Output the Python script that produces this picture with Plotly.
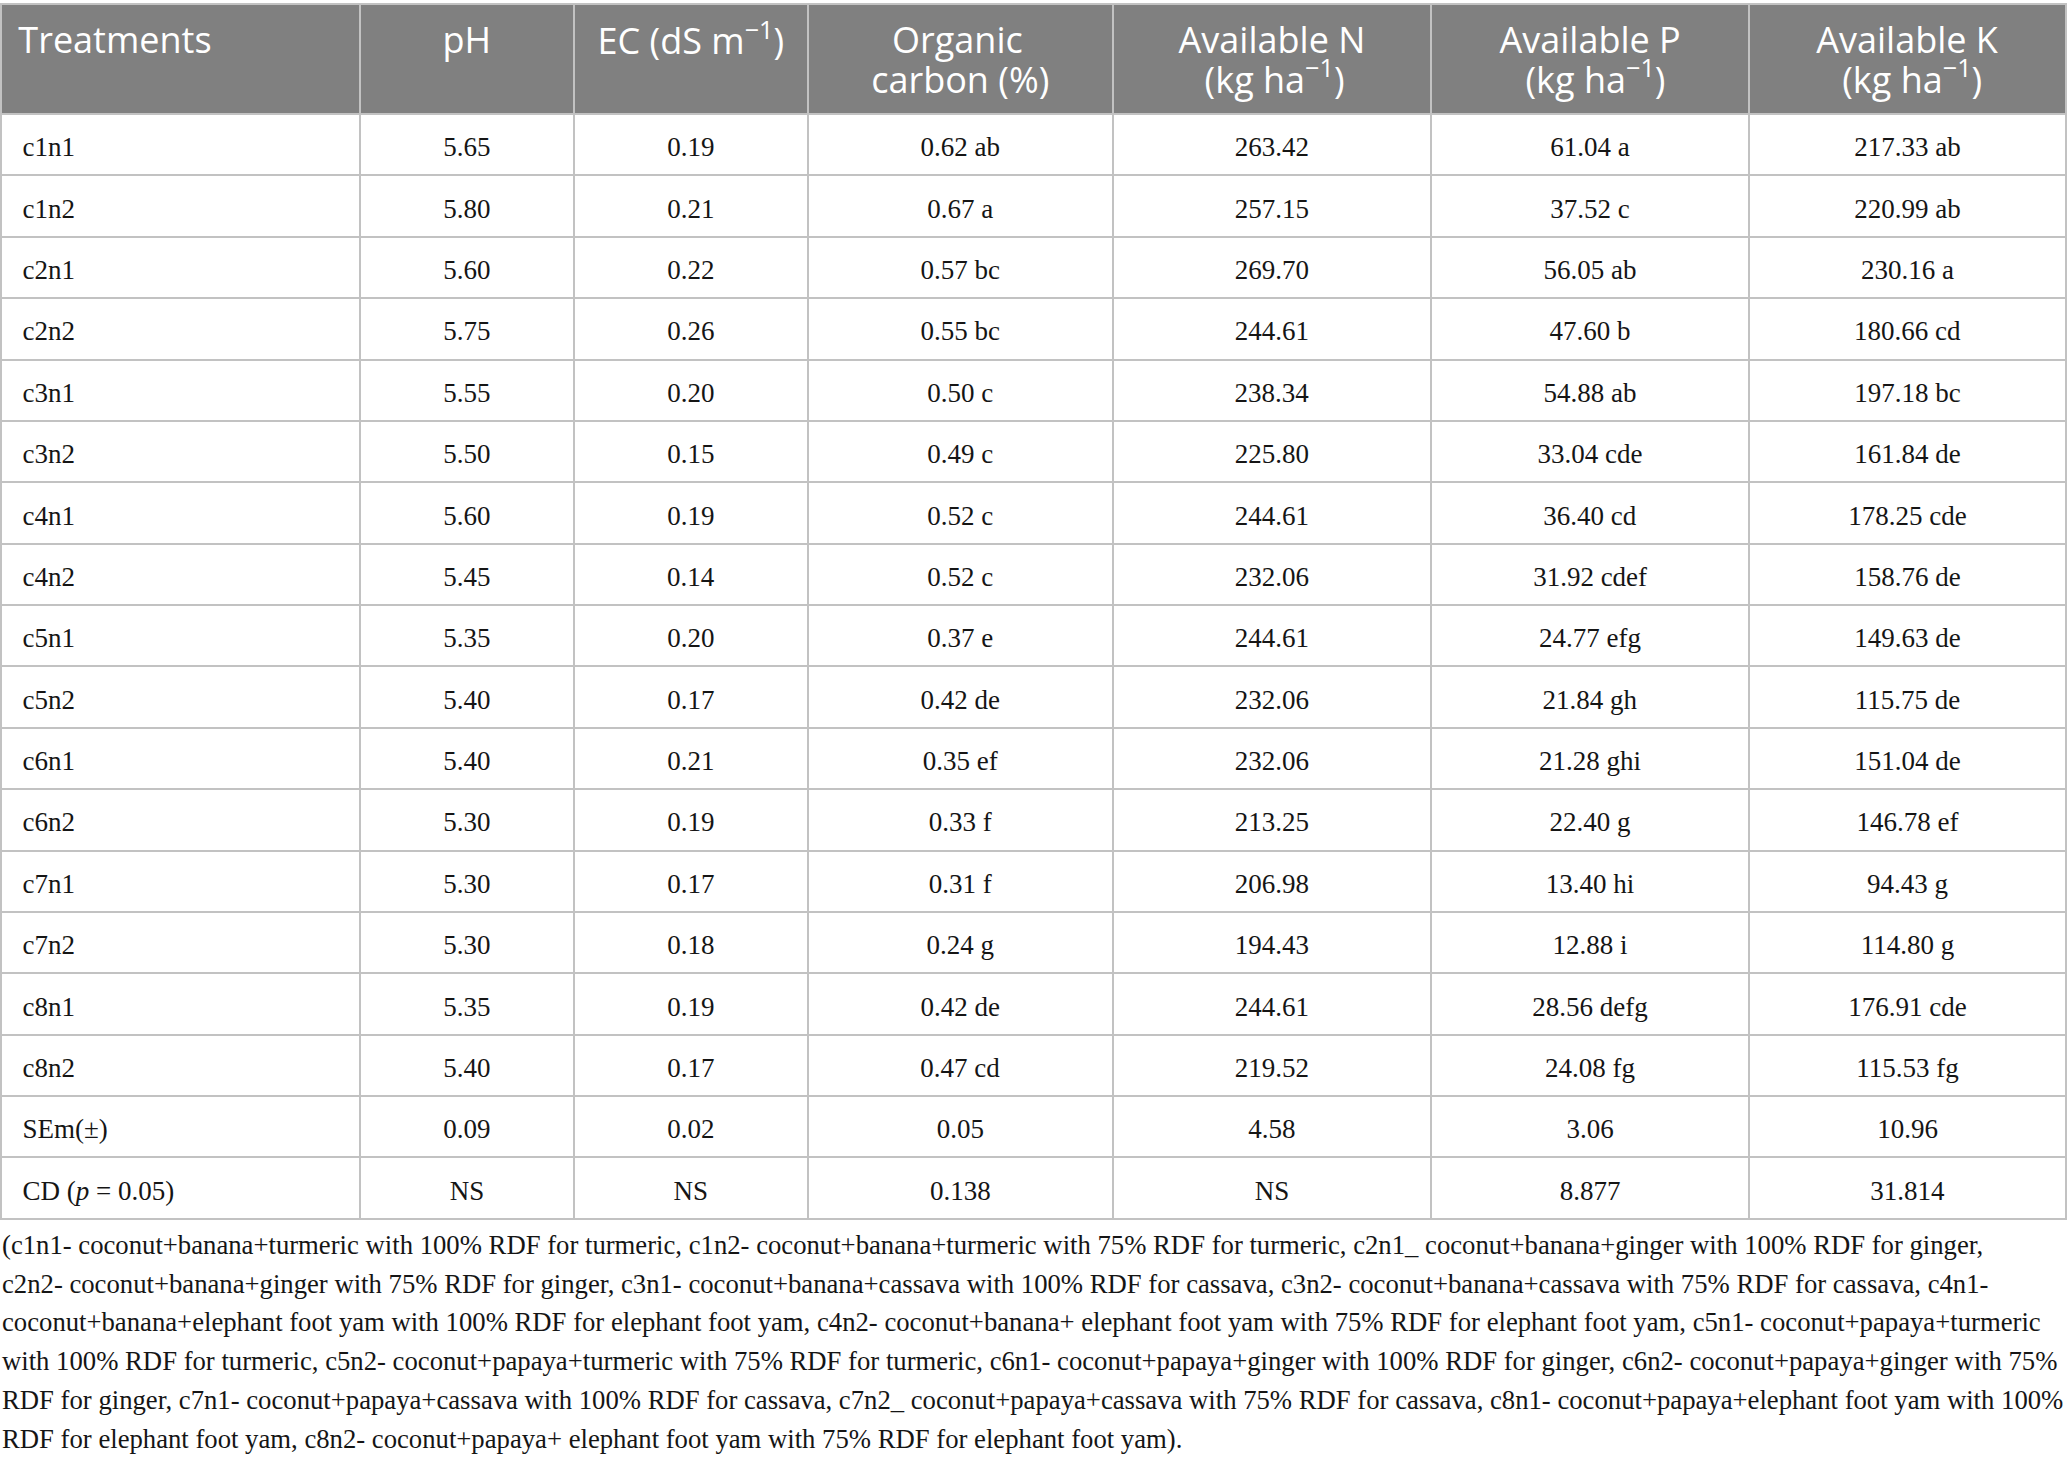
import plotly.graph_objects as go

# table data
headers = [["Treatments"], ["pH"], ["EC (dS m<sup>−1</sup>)"], ["Organic", "carbon (%)"],
           ["Available N", "(kg ha<sup>−1</sup>)"], ["Available P", "(kg ha<sup>−1</sup>)"],
           ["Available K", "(kg ha<sup>−1</sup>)"]]

treatments = ["c1n1", "c1n2", "c2n1", "c2n2", "c3n1", "c3n2", "c4n1", "c4n2",
              "c5n1", "c5n2", "c6n1", "c6n2", "c7n1", "c7n2", "c8n1", "c8n2",
              "SEm(±)", "CD (<i>p</i> = 0.05)"]
ph = ["5.65", "5.80", "5.60", "5.75", "5.55", "5.50", "5.60", "5.45",
      "5.35", "5.40", "5.40", "5.30", "5.30", "5.30", "5.35", "5.40", "0.09", "NS"]
ec = ["0.19", "0.21", "0.22", "0.26", "0.20", "0.15", "0.19", "0.14",
      "0.20", "0.17", "0.21", "0.19", "0.17", "0.18", "0.19", "0.17", "0.02", "NS"]
org_c = ["0.62 ab", "0.67 a", "0.57 bc", "0.55 bc", "0.50 c", "0.49 c", "0.52 c", "0.52 c",
         "0.37 e", "0.42 de", "0.35 ef", "0.33 f", "0.31 f", "0.24 g", "0.42 de", "0.47 cd",
         "0.05", "0.138"]
avail_n = ["263.42", "257.15", "269.70", "244.61", "238.34", "225.80", "244.61", "232.06",
           "244.61", "232.06", "232.06", "213.25", "206.98", "194.43", "244.61", "219.52",
           "4.58", "NS"]
avail_p = ["61.04 a", "37.52 c", "56.05 ab", "47.60 b", "54.88 ab", "33.04 cde", "36.40 cd",
           "31.92 cdef", "24.77 efg", "21.84 gh", "21.28 ghi", "22.40 g", "13.40 hi", "12.88 i",
           "28.56 defg", "24.08 fg", "3.06", "8.877"]
avail_k = ["217.33 ab", "220.99 ab", "230.16 a", "180.66 cd", "197.18 bc", "161.84 de",
           "178.25 cde", "158.76 de", "149.63 de", "115.75 de", "151.04 de", "146.78 ef",
           "94.43 g", "114.80 g", "176.91 cde", "115.53 fg", "10.96", "31.814"]

footnote = [
    "(c1n1- coconut+banana+turmeric with 100% RDF for turmeric, c1n2- coconut+banana+turmeric with 75% RDF for turmeric, c2n1_ coconut+banana+ginger with 100% RDF for ginger,",
    "c2n2- coconut+banana+ginger with 75% RDF for ginger, c3n1- coconut+banana+cassava with 100% RDF for cassava, c3n2- coconut+banana+cassava with 75% RDF for cassava, c4n1-",
    "coconut+banana+elephant foot yam with 100% RDF for elephant foot yam, c4n2- coconut+banana+ elephant foot yam with 75% RDF for elephant foot yam, c5n1- coconut+papaya+turmeric",
    "with 100% RDF for turmeric, c5n2- coconut+papaya+turmeric with 75% RDF for turmeric, c6n1- coconut+papaya+ginger with 100% RDF for ginger, c6n2- coconut+papaya+ginger with 75%",
    "RDF for ginger, c7n1- coconut+papaya+cassava with 100% RDF for cassava, c7n2_ coconut+papaya+cassava with 75% RDF for cassava, c8n1- coconut+papaya+elephant foot yam with 100%",
    "RDF for elephant foot yam, c8n2- coconut+papaya+ elephant foot yam with 75% RDF for elephant foot yam).",
]

# layout (pixels)
W, H = 2068, 1459
col_widths = [359, 214, 234, 305, 318.5, 318, 317]
header_h = 110
row_h = 61.38
grid = "#c2c2c2"
head_bg = "#808080"
sans = "Open Sans"
serif = "Liberation Serif"

# a tiny first line pushes the text down inside each cell (plotly tables top-align text)
SPACER = "<span style='font-size:1px'>\u00a0</span><br>"
NB_S = "<span style='font-size:20px'>\u00a0</span>"
# small indents that centre the shorter header line under the longer one
head_pad = {3: (4, 0), 4: (0, 5), 5: (0, 5), 6: (0, 5)}


def head_text(i, lines):
    pads = head_pad.get(i, (0,) * len(lines))
    out = []
    for line, p in zip(lines, pads):
        lead = "\u00a0" if i == 0 else ""
        out.append("<span style='font-size:36px'>" + NB_S * p + lead + line + "</span>")
    return SPACER + "<br>".join(out)


def cell_text(v, first=False):
    lead = "\u00a0\u00a0" if first else ""
    return SPACER + "<span style='font-size:27px'>" + lead + v + "</span>"


columns = [treatments, ph, ec, org_c, avail_n, avail_p, avail_k]
cell_vals = [[cell_text(v, j == 0) for v in col] for j, col in enumerate(columns)]
head_vals = [head_text(i, h) for i, h in enumerate(headers)]

fig = go.Figure(go.Table(
    columnwidth=col_widths,
    header=dict(
        values=head_vals,
        fill_color=head_bg,
        line=dict(color=grid, width=2),
        align=["left"] + ["center"] * 6,
        font=dict(family=sans, size=30.6, color="white"),
        height=header_h,
    ),
    cells=dict(
        values=cell_vals,
        fill_color="white",
        line=dict(color=grid, width=2),
        align=["left"] + ["center"] * 6,
        font=dict(family=serif, size=25.6, color="#151515"),
        height=row_h,
    ),
    domain=dict(x=[1 / W, 2066.5 / W], y=[0.0, 1 - 4 / H]),
))

fig.add_annotation(
    text="<br>".join("<span style='font-size:26.7px'>" + t + "</span>" for t in footnote),
    xref="paper", yref="paper", x=0, y=1 - 1228 / H,
    xanchor="left", yanchor="top", align="left", showarrow=False,
    font=dict(family=serif, size=29.8, color="#151515"),
)

fig.update_layout(
    width=W, height=H,
    margin=dict(l=0, r=0, t=0, b=0),
    paper_bgcolor="white",
)

fig.write_html("out.html", config={"displayModeBar": False},
               post_script="document.body.style.margin='0';")
